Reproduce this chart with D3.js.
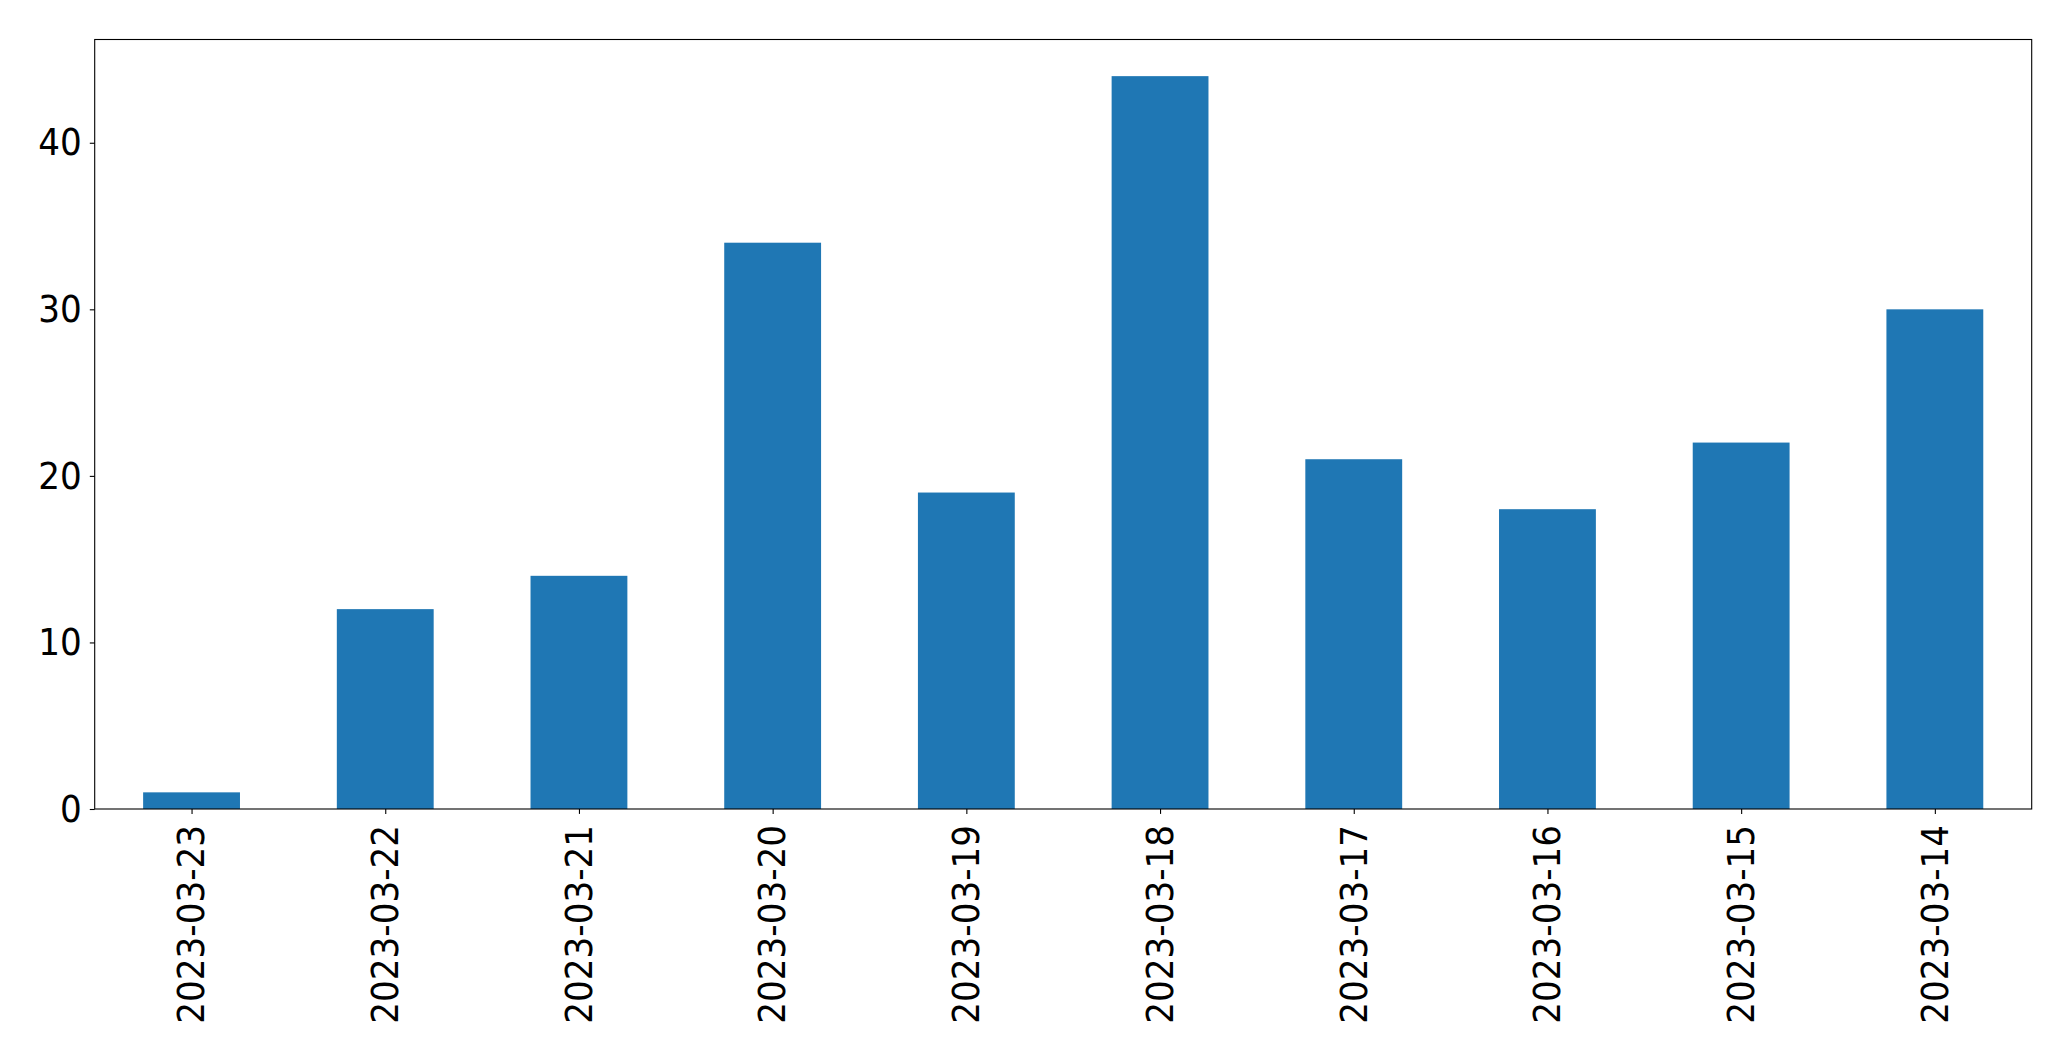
<!DOCTYPE html>
<html><head><meta charset="utf-8">
<script src="https://cdn.jsdelivr.net/npm/d3@7"></script>
<style>body{margin:0;background:#fff;}svg{display:block;}</style>
</head><body>
<script>
const categories = ["2023-03-23","2023-03-22","2023-03-21","2023-03-20","2023-03-19","2023-03-18","2023-03-17","2023-03-16","2023-03-15","2023-03-14"];
const values = [1,12,14,34,19,44,21,18,22,30];
const yTicks = [0,10,20,30,40];

const W = 2071, H = 1061;
const m = {left: 94.7, right: 2071-2031.7, top: 39.5, bottom: 1061-809};
const iw = W - m.left - m.right, ih = H - m.top - m.bottom;

const svg = d3.select("body").append("svg").attr("width", W).attr("height", H);
const g = svg.append("g").attr("transform", `translate(${m.left},${m.top})`);

const x = d3.scaleLinear().domain([-0.5, categories.length - 0.5]).range([0, iw]);
const y = d3.scaleLinear().domain([0, d3.max(values) * 1.05]).range([ih, 0]);

g.selectAll("rect.bar").data(values).join("rect")
  .attr("class","bar")
  .attr("x", (d,i) => x(i - 0.25))
  .attr("width", (d,i) => x(i + 0.25) - x(i - 0.25))
  .attr("y", d => y(d))
  .attr("height", d => y(0) - y(d))
  .attr("fill", "#1f77b4");

const fontFam = "'DejaVu Sans Condensed', 'DejaVu Sans', sans-serif";
const fs = 38;

const yAxis = g.append("g").call(d3.axisLeft(y).tickValues(yTicks).tickFormat(d3.format("d")).tickSize(4.9).tickPadding(8));
yAxis.select(".domain").remove();
yAxis.selectAll("line").attr("stroke","#000").attr("stroke-width",1.1);
yAxis.selectAll("text").attr("font-family", fontFam).attr("font-stretch","condensed").attr("font-size", fs).attr("fill","#000");

const xAxis = g.append("g").attr("transform", `translate(0,${ih})`)
  .call(d3.axisBottom(x).tickValues(d3.range(categories.length)).tickFormat(i => categories[i]).tickSize(4.9).tickPadding(0));
xAxis.select(".domain").remove();
xAxis.selectAll("line").attr("stroke","#000").attr("stroke-width",1.1);
xAxis.selectAll("text")
  .attr("font-family", fontFam).attr("font-stretch","condensed").attr("font-size", fs).attr("fill","#000")
  .attr("transform", "translate(-1,16) rotate(-90)")
  .attr("text-anchor", "end").attr("dy", "0.35em").attr("x", 0).attr("y", 0);

g.append("rect").attr("x",0).attr("y",0).attr("width",iw).attr("height",ih)
  .attr("fill","none").attr("stroke","#000").attr("stroke-width",1.1);
</script>
</body></html>
